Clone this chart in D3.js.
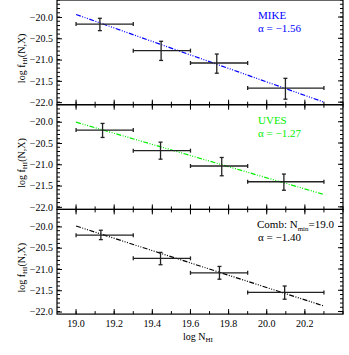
<!DOCTYPE html>
<html>
<head>
<meta charset="utf-8">
<script src="https://cdn.jsdelivr.net/npm/d3@7"></script>
<style>
body { margin: 0; background: #fff; }
svg { display: block; }
svg text { font-family: "Liberation Serif", "DejaVu Serif", serif; }
</style>
</head>
<body>
<svg id="chart"></svg>
<script>
let w = 349
let h = 355

// bins in log N_HI
let binLo = [19.0, 19.3, 19.6, 19.9]
let binHi = [19.3, 19.6, 19.9, 20.3]

let panelNames = ["MIKE", "UVES", "Comb"]
let panelColors = ["#0000ff", "#00ee00", "#000000"]
let alphaLabels = ["α = −1.56", "α = −1.27", "α = −1.40"]

// points: log N center, log f, err low, err high
let mikeX = [19.125, 19.446, 19.738, 20.098]
let mikeY = [-20.165, -20.79, -21.08, -21.67]
let mikeLo = [-20.32, -21.02, -21.32, -21.93]
let mikeHi = [-20.03, -20.57, -20.87, -21.44]

let uvesX = [19.139, 19.443, 19.764, 20.09]
let uvesY = [-20.196, -20.68, -21.04, -21.41]
let uvesLo = [-20.37, -20.88, -21.27, -21.61]
let uvesHi = [-20.04, -20.48, -20.84, -21.23]

let combX = [19.13, 19.443, 19.752, 20.094]
let combY = [-20.205, -20.75, -21.09, -21.55]
let combLo = [-20.31, -20.90, -21.24, -21.71]
let combHi = [-20.09, -20.61, -20.94, -21.40]

// fit line ends (x = 19.0 and x = 20.3)
let fitX = [19.0, 20.3]
let fitMike = [-19.94, -22.0]
let fitUves = [-20.01, -21.71]
let fitComb = [-19.99, -21.87]

let yTicks = [-20.0, -20.5, -21.0, -21.5, -22.0]
let xTicks = [19.0, 19.2, 19.4, 19.6, 19.8, 20.0, 20.2]

let panels = [
  {x: mikeX, y: mikeY, lo: mikeLo, hi: mikeHi, fit: fitMike},
  {x: uvesX, y: uvesY, lo: uvesLo, hi: uvesHi, fit: fitUves},
  {x: combX, y: combY, lo: combLo, hi: combHi, fit: fitComb}
]

let padL = 57, padR = 343, padT = 0, panelH = 104.7

let svg = d3.select("#chart").attr("width", w).attr("height", h)

let x = d3.scaleLinear().domain([18.9, 20.4]).range([padL, padR])

let minus = s => s.replace("-", "−")

panels.forEach((p, i) => {
  let y0 = padT + i * panelH
  let y = d3.scaleLinear().domain([-22.06, -19.6]).range([y0 + panelH, y0])
  let g = svg.append("g")

  let yMinor = d3.range(-22.0, -19.59, 0.1)
  let xMinor = d3.range(19.0, 20.41, 0.1)

  // left axis
  let gl = g.append("g").attr("transform", `translate(${padL},0)`)
    .call(d3.axisLeft(y).tickValues(yTicks).tickSize(5))
  gl.attr("font-family", null).attr("font-size", null)
  gl.select(".domain").remove()
  gl.selectAll("text").attr("font-size", 10).attr("x", -4)
    .text(d => minus(d3.format(".1f")(d)))
  gl.selectAll("line").attr("x2", 5)
  g.selectAll(".yminL").data(yMinor).join("line")
    .attr("x1", padL).attr("x2", padL + 3)
    .attr("y1", d => y(d)).attr("y2", d => y(d))
    .attr("stroke", "#000")
  // right axis
  g.selectAll(".ymajR").data(yTicks).join("line")
    .attr("x1", padR).attr("x2", padR - 5)
    .attr("y1", d => y(d)).attr("y2", d => y(d))
    .attr("stroke", "#000")
  g.selectAll(".yminR").data(yMinor).join("line")
    .attr("x1", padR).attr("x2", padR - 3)
    .attr("y1", d => y(d)).attr("y2", d => y(d))
    .attr("stroke", "#000")

  // bottom ticks of the panel
  let yb = y0 + panelH
  g.selectAll(".xmaj").data(xTicks).join("line")
    .attr("x1", d => x(d)).attr("x2", d => x(d))
    .attr("y1", yb).attr("y2", yb - 5)
    .attr("stroke", "#000")
  g.selectAll(".xmin").data(xMinor).join("line")
    .attr("x1", d => x(d)).attr("x2", d => x(d))
    .attr("y1", yb).attr("y2", yb - 3)
    .attr("stroke", "#000")
  if (i > 0) {
    g.selectAll(".xmajT").data(xTicks).join("line")
      .attr("x1", d => x(d)).attr("x2", d => x(d))
      .attr("y1", y0).attr("y2", y0 + 5)
      .attr("stroke", "#000")
    g.selectAll(".xminT").data(xMinor).join("line")
      .attr("x1", d => x(d)).attr("x2", d => x(d))
      .attr("y1", y0).attr("y2", y0 + 3)
      .attr("stroke", "#000")
  }

  // frame
  g.append("rect").attr("x", padL).attr("y", y0)
    .attr("width", padR - padL).attr("height", panelH)
    .attr("fill", "none").attr("stroke", "#000").attr("stroke-width", 1.2)

  // fit line
  g.append("path")
    .datum(fitX.map((d, k) => [d, p.fit[k]]))
    .attr("d", d3.line().x(d => x(d[0])).y(d => y(d[1])))
    .attr("fill", "none").attr("stroke", panelColors[i])
    .attr("stroke-width", 1.2).attr("stroke-dasharray", "5,1.5,1,1.5,1,1.5,1,1.5")

  // error bars
  let pts = p.x.map((d, k) => ({x: d, y: p.y[k], lo: p.lo[k], hi: p.hi[k], b0: binLo[k], b1: binHi[k]}))
  let eb = g.selectAll(".eb").data(pts).join("g").attr("stroke", "#222").attr("stroke-width", 1.3)
  eb.append("line").attr("x1", d => x(d.b0)).attr("x2", d => x(d.b1))
    .attr("y1", d => y(d.y)).attr("y2", d => y(d.y))
  eb.append("line").attr("x1", d => x(d.b0)).attr("x2", d => x(d.b0))
    .attr("y1", d => y(d.y) - 2).attr("y2", d => y(d.y) + 2)
  eb.append("line").attr("x1", d => x(d.b1)).attr("x2", d => x(d.b1))
    .attr("y1", d => y(d.y) - 2).attr("y2", d => y(d.y) + 2)
  eb.append("line").attr("x1", d => x(d.x)).attr("x2", d => x(d.x))
    .attr("y1", d => y(d.lo)).attr("y2", d => y(d.hi))
  eb.append("line").attr("x1", d => x(d.x) - 2).attr("x2", d => x(d.x) + 2)
    .attr("y1", d => y(d.lo)).attr("y2", d => y(d.lo))
  eb.append("line").attr("x1", d => x(d.x) - 2).attr("x2", d => x(d.x) + 2)
    .attr("y1", d => y(d.hi)).attr("y2", d => y(d.hi))

  // labels
  let lab = g.append("text").attr("x", i == 2 ? 257 : 258).attr("y", y0 + 19)
    .attr("font-size", 11).attr("fill", panelColors[i])
  if (i == 2) {
    lab.append("tspan").text("Comb: N")
    lab.append("tspan").attr("font-size", 7).attr("dy", 3).text("min")
    lab.append("tspan").attr("dy", -3).text("=19.0")
  } else {
    lab.text(panelNames[i])
  }
  g.append("text").attr("x", 258).attr("y", y0 + 32)
    .attr("font-size", 11).attr("fill", panelColors[i]).text(alphaLabels[i])

  // y label
  let yl = g.append("text")
    .attr("transform", `translate(25,${y0 + panelH / 2 + 6}) rotate(-90)`)
    .attr("text-anchor", "middle").attr("font-size", 10)
  yl.append("tspan").text("log f")
  yl.append("tspan").attr("font-size", 7).attr("dy", 2).text("HI")
  yl.append("tspan").attr("dy", -2).text("(N,X)")
})

// x tick labels
let yBottom = padT + 3 * panelH
svg.selectAll(".xl").data(xTicks).join("text")
  .attr("x", d => x(d)).attr("y", yBottom + 13)
  .attr("text-anchor", "middle").attr("font-size", 10)
  .text(d3.format(".1f"))

let xl = svg.append("text").attr("x", 198).attr("y", yBottom + 26)
  .attr("text-anchor", "middle").attr("font-size", 10)
xl.append("tspan").text("log N")
xl.append("tspan").attr("font-size", 7).attr("dy", 2).text("HI")
</script>
</body>
</html>
